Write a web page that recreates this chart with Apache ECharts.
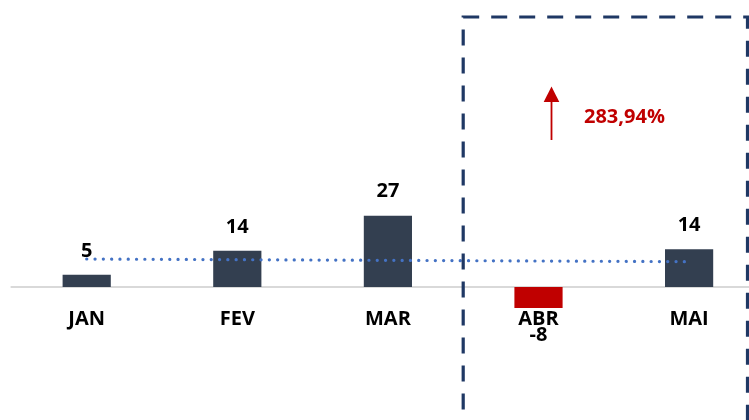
<!DOCTYPE html>
<html>
<head>
<meta charset="utf-8">
<script src="https://cdn.jsdelivr.net/npm/echarts@6/dist/echarts.min.js"></script>
<style>
html,body{margin:0;padding:0;background:#fff;}
#c{width:749px;height:420px;}
</style>
</head>
<body>
<div id="c"></div>
<script>
var categories = ['JAN', 'FEV', 'MAR', 'ABR', 'MAI'];
var values = [4.6, 13.7, 27.0, -8.0, 14.3];
var trendValues = [10.6, null, null, null, 9.6];
var changeText = '283,94%';

var FONT = 'Open Sans';
var chart = echarts.init(document.getElementById('c'), null, {renderer: 'canvas'});

var barData = values.map(function (v) {
  var item = {value: v, itemStyle: {color: v < 0 ? '#c00000' : '#333f50'}};
  if (v < 0) item.label = {position: 'bottom', distance: 17};
  return item;
});

var option = {
  animation: false,
  backgroundColor: '#fff',
  grid: {left: 11.4, top: 23, width: 753, height: 264, outerBoundsMode: 'none', containLabel: false},
  xAxis: {
    type: 'category',
    data: categories,
    boundaryGap: true,
    axisTick: {show: false},
    axisLine: {show: true, onZero: true, lineStyle: {color: '#d9d9d9', width: 2}},
    axisLabel: {color: '#000', fontFamily: FONT, fontWeight: 'bold', fontSize: 20, margin: 22, interval: 0}
  },
  yAxis: {
    type: 'value', min: 0, max: 100, show: false,
    splitLine: {show: false}
  },
  series: [
    {
      type: 'bar',
      data: barData,
      barWidth: '32%',
      clip: false,
      z: 2,
      label: {
        show: true, position: 'top', distance: 14,
        color: '#000', fontFamily: FONT, fontWeight: 'bold', fontSize: 20,
        formatter: function (p) { return String(Math.round(p.value)); }
      }
    },
    {
      type: 'line',
      data: trendValues,
      connectNulls: true,
      symbol: 'none',
      z: 3,
      lineStyle: {color: '#4472c4', width: 3.2, type: [0.1, 8.2], cap: 'round'}
    }
  ]
};
chart.setOption(option);

var pABR = chart.convertToPixel({seriesIndex: 0}, [3, 0]);
var pMAR = chart.convertToPixel({seriesIndex: 0}, [2, 0]);
var boxLeft = (pABR[0] + pMAR[0]) / 2;
var arrowX = pABR[0] + 13;

chart.setOption({
  graphic: [
    {
      type: 'rect', z: 10,
      shape: {x: boxLeft, y: 17, width: 747.5 - boxLeft, height: 430},
      style: {fill: 'none', stroke: '#1f3864', lineWidth: 3.2, lineDash: [16, 12]}
    },
    {
      type: 'line', z: 10,
      shape: {x1: arrowX, y1: 140, x2: arrowX, y2: 100},
      style: {stroke: '#c00000', lineWidth: 1.8}
    },
    {
      type: 'polygon', z: 10,
      shape: {points: [[arrowX, 86.5], [arrowX - 7.8, 102], [arrowX + 7.8, 102]]},
      style: {fill: '#c00000'}
    },
    {
      type: 'text', z: 10,
      x: 584, y: 117,
      style: {text: changeText, fill: '#c00000', font: 'bold 20px "Open Sans"', textVerticalAlign: 'middle', verticalAlign: 'middle'}
    }
  ]
});
</script>
</body>
</html>
